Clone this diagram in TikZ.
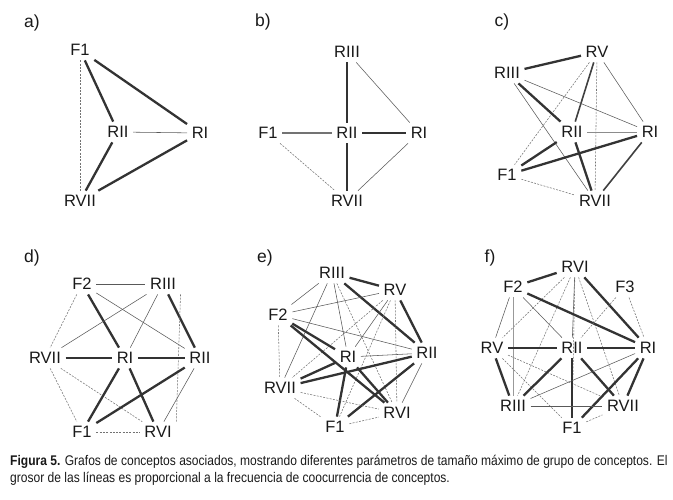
\documentclass[tikz,border=0pt]{standalone}
\usepackage{fontspec}
\setmainfont{Liberation Sans}
\newfontfamily\capfont[FakeStretch=0.86]{Liberation Sans}
\begin{document}
\begin{tikzpicture}[x=1pt,y=-1pt,
    every node/.style={font=\fontsize{16.5}{19}\selectfont, inner sep=4.5pt, text=black!90},
    panel/.style={font=\fontsize{17.5}{20}\selectfont},
    leyenda/.style={anchor=base west, inner sep=0pt, font=\capfont\fontsize{14}{17}\selectfont},
    gruesa/.style={line width=2.3pt, black!80},
    media/.style={line width=1.6pt, black!75},
    fina/.style={line width=0.55pt, black!65},
    punteada/.style={line width=0.55pt, black!55, dash pattern=on 2pt off 1.3pt}]
  \useasboundingbox (0,0) rectangle (673,499);
  % a)
  \draw
    (32,23) node[panel] (la){a)}
    (80,50) node (aF1){F1}
    (118,132) node (aRII){RII}
    (200,133) node (aRI){RI}
    (80,201) node (aRVII){RVII};
  \begin{scope}
    \draw[gruesa] (aF1) to (aRII);
    \draw[gruesa] (aF1) to (aRI);
    \draw[fina] (aRII) to (aRI);
    \draw[gruesa] (aRII) to (aRVII);
    \draw[gruesa] (aRI) to (aRVII);
    \draw[punteada] (aF1) to (aRVII);
  \end{scope}
  % b)
  \draw
    (263,22) node[panel] (lb){b)}
    (347,52) node (bRIII){RIII}
    (268,133) node (bF1){F1}
    (347,133) node (bRII){RII}
    (419,133) node (bRI){RI}
    (347,201) node (bRVII){RVII};
  \begin{scope}
    \draw[gruesa] (bRIII) to (bRII);
    \draw[fina] (bRIII) to (bRI);
    \draw[gruesa, black!55] (bF1) to (bRII);
    \draw[gruesa] (bRII) to (bRI);
    \draw[gruesa] (bRII) to (bRVII);
    \draw[fina] (bRI) to (bRVII);
    \draw[punteada] (bF1) to (bRVII);
  \end{scope}
  % c)
  \draw
    (502,22) node[panel] (lc){c)}
    (597,52) node (cRV){RV}
    (507,73) node (cRIII){RIII}
    (572,132) node (cRII){RII}
    (650,132) node (cRI){RI}
    (507,175) node (cF1){F1}
    (595,201) node (cRVII){RVII};
  \begin{scope}
    \draw[gruesa] (cRIII) to (cRV);
    \draw[media] (cRV) to (cRII);
    \draw[punteada] (cRV) to (cF1);
    \draw[punteada] (cRV) to (cRVII);
    \draw[fina] (cRV) to (cRI);
    \draw[gruesa] (cRIII) to (cRII);
    \draw[fina] (cRIII) to (cRI);
    \draw[fina] (cRIII) to (cRVII);
    \draw[fina, black!45] (cRII) to (cRI);
    \draw[gruesa] (cRII) to (cF1);
    \draw[gruesa] (cRII) to (cRVII);
    \draw[gruesa] (cF1) to (cRI);
    \draw[punteada] (cF1) to (cRVII);
    \draw[media] (cRI) to (cRVII);
  \end{scope}
  % d)
  \draw
    (32,258) node[panel] (ld){d)}
    (82,284) node (dF2){F2}
    (163,284) node (dRIII){RIII}
    (45,358) node (dRVII){RVII}
    (125,358) node (dRI){RI}
    (200,358) node (dRII){RII}
    (82,432) node (dF1){F1}
    (158,432) node (dRVI){RVI};
  \begin{scope}
    \draw[fina] (dF2) to (dRIII);
    \draw[gruesa] (dF2) to (dRI);
    \draw[fina] (dF2) to (dRII);
    \draw[punteada] (dF2) to (dRVII);
    \draw[fina] (dRIII) to (dRVII);
    \draw[fina] (dRIII) to (dRI);
    \draw[gruesa] (dRIII) to (dRII);
    \draw[punteada] (dRIII.south east) to (dRVI.north east);
    \draw[gruesa] (dRVII) to (dRI);
    \draw[gruesa] (dRI) to (dRII);
    \draw[punteada] (dRVII) to (dF1);
    \draw[punteada] (dRVII) to (dRVI);
    \draw[gruesa] (dRI) to (dF1);
    \draw[gruesa] (dRI) to (dRVI);
    \draw[gruesa] (dRII) to (dF1);
    \draw[fina] (dRII) to (dRVI);
    \draw[punteada] (dF1) to (dRVI);
  \end{scope}
  % e)
  \draw
    (265,258) node[panel] (le){e)}
    (332,273) node (eRIII){RIII}
    (395,290) node (eRV){RV}
    (278,315) node (eF2){F2}
    (348,357) node (eRI){RI}
    (427,353) node (eRII){RII}
    (280,388) node (eRVII){RVII}
    (397,413) node (eRVI){RVI}
    (335,427) node (eF1){F1};
  \begin{scope}
    \draw[gruesa] (eRIII) to (eRV);
    \draw[fina] (eRIII) to (eF2);
    \draw[gruesa] (eRIII) to (eRII);
    \draw[fina] (eRIII) to (eRVII);
    \draw[fina] (eRIII) to (eRI);
    \draw[punteada] (eRIII) to (eRVI);
    \draw[fina] (eRV) to (eF2);
    \draw[gruesa] (eRV) to (eRII);
    \draw[punteada] (eRV) to (eRVII);
    \draw[fina] (eRV) to (eRI);
    \draw[punteada] (eRV) to (eF1);
    \draw[punteada] (eRV) to (eRVI);
    \draw[fina] (eF2) to (eRII);
    \draw[gruesa] (eF2) to (eRI);
    \draw[gruesa] (eF2) to (eRVI);
    \draw[punteada] (eF2) to (eRVII);
    \draw[gruesa] (eRI) to (eRVII);
    \draw[gruesa] (eRI) to (eF1);
    \draw[gruesa] (eRI) to (eRVI);
    \draw[fina] (eRI) to (eRII);
    \draw[gruesa] (eRII) to (eRVII);
    \draw[gruesa] (eRII) to (eF1);
    \draw[fina] (eRII) to (eRVI);
    \draw[punteada] (eRVII) to (eRVI);
    \draw[punteada] (eRVII) to (eF1);
    \draw[punteada] (eF1) to (eRVI);
  \end{scope}
  % f)
  \draw
    (490,258) node[panel] (lf){f)}
    (575,267) node (fRVI){RVI}
    (513,287) node (fF2){F2}
    (625,287) node (fF3){F3}
    (492,348) node (fRV){RV}
    (572,348) node (fRII){RII}
    (648,348) node (fRI){RI}
    (513,406) node (fRIII){RIII}
    (623,406) node (fRVII){RVII}
    (572,428) node (fF1){F1};
  \begin{scope}
    \draw[gruesa] (fRVI) to (fF2);
    \draw[gruesa] (fRVI) to (fRI);
    \draw[fina] (fRVI) to (fRII);
    \draw[punteada] (fRVI) to (fRV);
    \draw[punteada] (fRVI) to (fRIII);
    \draw[punteada] (fRVI) to (fF1);
    \draw[punteada] (fRVI) to (fRVII);
    \draw[gruesa] (fF2) to (fRI);
    \draw[fina] (fF2) to (fRV);
    \draw[fina, black!40] (fF2) to (fRIII);
    \draw[fina] (fF2) to (fRII);
    \draw[punteada] (fF3) to (fRII);
    \draw[punteada] (fF3) to (fRI);
    \draw[gruesa] (fRV) to (fRII);
    \draw[gruesa] (fRV) to (fRIII);
    \draw[punteada] (fRV) to (fRVII);
    \draw[punteada] (fRV) to (fF1);
    \draw[gruesa] (fRII) to (fRI);
    \draw[gruesa] (fRII) to (fRIII);
    \draw[gruesa] (fRII) to (fF1);
    \draw[gruesa] (fRII) to (fRVII);
    \draw[fina] (fRI) to (fRIII);
    \draw[gruesa] (fRI) to (fF1);
    \draw[gruesa] (fRI) to (fRVII);
    \draw[fina] (fRIII) to (fRVII);
    \draw[punteada] (fF1) to (fRVII);
  \end{scope}
  % caption
  \node[leyenda] (cap1) at (10,465)
    {\textbf{Figura 5.} Grafos de conceptos asociados, mostrando diferentes par\'ametros de tama\~no m\'aximo de grupo de conceptos. El};
  \node[leyenda] (cap2) at (10,482)
    {grosor de las l\'ineas es proporcional a la frecuencia de coocurrencia de conceptos.};
\end{tikzpicture}
\end{document}
